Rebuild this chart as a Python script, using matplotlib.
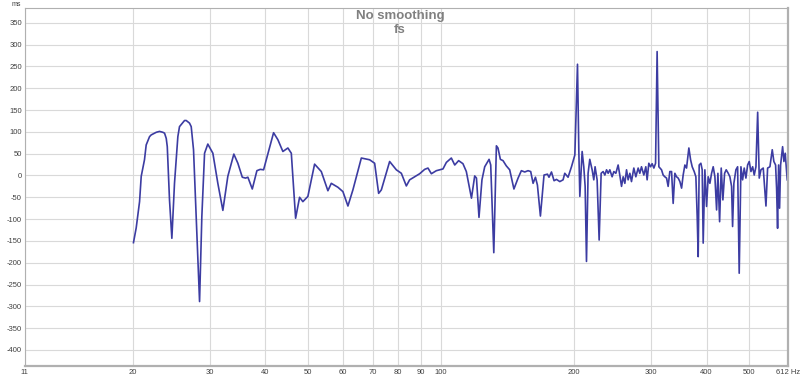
"""
Group delay plot, no smoothing (REW style export)
"""

import matplotlib

matplotlib.use('Agg')

import matplotlib.pyplot as plt

plt.rcParams['font.family'] = ['Liberation Sans', 'DejaVu Sans']

# ============================================
# DATA
# ============================================
# frequency in Hz
freq_hz = [
    20.10, 20.39, 20.75, 20.93, 21.29, 21.48, 21.86, 22.05, 22.64, 23.03,
    23.43, 23.64, 23.85, 23.98, 24.18, 24.26, 24.56,
    24.90, 25.34, 25.56, 26.24, 26.47, 26.93, 27.17, 27.50, 27.98, 28.38,
    28.72, 29.13, 29.63,
    30.42, 31.22, 32.05, 32.89, 33.94, 34.66, 35.47, 36.08, 36.52, 37.37,
    38.28, 38.96, 39.64, 40.20, 41.76, 42.71, 43.84, 45.00,
    45.81, 46.85, 47.83, 48.66, 49.95, 51.73, 53.57, 55.45, 56.44, 58.42,
    59.97, 61.56, 63.18, 66.02, 68.95, 70.77, 72.26, 73.29, 76.53, 79.25,
    81.35, 83.50, 84.95, 89.51, 91.88, 93.48, 95.15, 97.67, 101.1,
    102.9, 105.6, 107.5, 109.7, 112.2, 114.2, 117.3, 119.3, 120.4, 122.0,
    123.9, 125.7, 128.6, 129.7, 131.8, 133.6, 134.7, 136.4, 138.3, 140.7,
    143.2, 146.4, 149.6, 152.2, 154.9, 157.6, 159.8, 161.8, 163.8, 165.5,
    168.1, 171.3, 174.4, 175.8, 178.1, 180.5, 182.8,
    186.0, 189.2, 190.9, 194.2, 197.7, 201.2, 204.0, 205.4, 206.5, 209.0,
    210.8, 212.3, 213.8, 215.6, 217.5, 220.2, 222.1, 223.6, 226.0, 228.4,
    230.8, 233.2, 235.3, 237.4, 239.4, 241.5, 244.4, 246.6, 249.2, 252.2,
    254.4, 256.7, 258.9, 261.2, 263.5, 265.7, 268.1, 270.4, 273.7, 276.6,
    280.0, 282.4, 284.9, 288.4, 291.4, 293.4, 296.0, 298.7, 301.2, 303.9,
    306.6, 309.1, 311.9,
    316.3, 319.0, 321.8, 324.7, 327.4, 330.3, 333.3, 336.1, 339.1, 342.1,
    345.0, 348.1, 351.2, 354.1, 357.3, 360.4, 364.8, 368.1, 371.2, 375.1,
    378.4, 381.0, 383.0, 385.0, 388.4, 391.1, 393.1, 396.6, 400.1, 403.5,
    407.1, 410.7, 414.2, 417.9, 421.6, 424.5, 428.3, 431.9, 435.7, 439.6,
    443.3, 448.0, 451.9, 455.9, 458.3, 461.4, 466.3, 470.5, 474.4, 478.7,
    482.9, 487.0, 491.3, 495.7, 499.9, 504.4, 508.9, 513.1, 517.7, 522.4,
    526.7, 531.4, 537.8, 545.5, 550.2, 556.9, 563.7, 568.5, 573.6, 576.6,
    579.6, 582.7, 585.7, 588.8, 595.0, 599.1, 603.2, 609.5,
]

# group delay in ms
delay_ms = [
    -154, -120, -60, -2, 36, 70, 89, 93, 99, 101,
    99, 97, 85, 66, -18, -56, -144,
    -18, 89, 112, 126, 126, 120, 112, 59, -132, -289,
    -94, 51, 72,
    51, -18, -80, -2, 49, 28, -4, -6, -4, -31,
    11, 14, 13, 36, 98, 82, 55, 63,
    51, -98, -50, -60, -48, 26, 9, -35, -18, -27,
    -37, -70, -33, 40, 36, 28, -41, -33, 32, 13,
    5, -24, -10, 4, 14, 17, 4, 11, 15,
    30, 40, 24, 34, 27, 9, -52, -1, -6, -96,
    -10, 20, 37, 24, -177, 68, 63, 37, 34, 22,
    13, -31, -6, 11, 8, 11, 9, -18, -4, -22,
    -93, 1, 3, -4, 8, -12, -9,
    -14, -10, 5, -4, 20, 47, 255, 59, -48, 55,
    20, -25, -197, 5, 37, 13, -10, 20, -10, -148,
    5, 9, 1, 13, 5, 13, -3, 9, 5, 24,
    1, -25, -3, -18, 13, -10, 5, -14, 17, -3,
    17, 5, 20, 1, 20, -10, 28, 20, 27, 17,
    28, 284, 20,
    13, 1, -3, -6, -25, 9, 9, -64, 5, -3,
    -6, -14, -29, 1, 24, 17, 63, 36, 20, 9,
    -3, -94, -186, 24, 28, 13, -155, 13, -71, -3,
    -18, 5, 20, -3, -79, 5, -106, 17, -56, 5,
    13, 5, -3, -25, -117, -18, 13, 20, -224, 20,
    -10, 17, -6, 24, 32, 9, 20, 1, 20, 145,
    -6, 13, 17, -70, 17, 20, 59, 32, 24, -29,
    -121, 24, -75, 24, 66, 32, 51, -10,
]

# axis ticks
x_ticks = [11.4, 20, 30, 40, 50, 60, 70, 80, 90, 100, 200, 300, 400, 500, 612]
x_tick_labels = ['11', '20', '30', '40', '50', '60', '70', '80', '90', '100',
                 '200', '300', '400', '500', '612 Hz']
y_ticks = list(range(-400, 351, 50))

LINE_COLOR = '#3c3ca2'
TEXT_COLOR = '#404040'
GRID_COLOR = '#d9d9d9'

# ============================================
# PLOT
# ============================================
fig = plt.figure(figsize=(8.0, 3.79), dpi=100)
ax = fig.add_axes([0.031, 0.034, 0.954, 0.945])

ax.plot(freq_hz, delay_ms, color=LINE_COLOR, linewidth=1.2)

ax.set_xscale('log')
ax.set_xlim(11.4, 612)
ax.set_ylim(-437, 384)

ax.set_xticks(x_ticks)
ax.set_xticklabels(x_tick_labels)
ax.xaxis.set_minor_locator(matplotlib.ticker.NullLocator())
ax.set_yticks(y_ticks)
ax.set_yticklabels([str(v) for v in y_ticks])

ax.tick_params(axis='both', length=0, labelsize=5.5, colors=TEXT_COLOR, pad=2)
ax.grid(True, color=GRID_COLOR, linewidth=0.8)
ax.set_axisbelow(True)

for spine in ax.spines.values():
    spine.set_color('#b0b0b0')
    spine.set_linewidth(0.8)
ax.spines['bottom'].set_linewidth(1.6)
ax.spines['right'].set_linewidth(1.6)

# unit label top-left
fig.text(12 / 800, 1 - 4 / 379, 'ms', fontsize=5, color=TEXT_COLOR,
         ha='left', va='center')

# title
fig.text(0.5, 1 - 16 / 379, 'No smoothing', fontsize=9.5, color='#808080',
         weight='bold', ha='center', va='center')
fig.text(0.5, 1 - 30 / 379, 'fs', fontsize=9.5, color='#808080',
         weight='bold', ha='center', va='center')

plt.savefig('out.png', dpi=100)
plt.close(fig)
